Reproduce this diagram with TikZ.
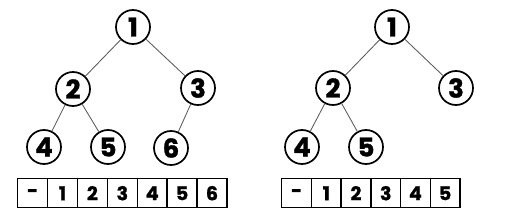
\documentclass[tikz,border=0pt]{standalone}
\usepackage{fontspec}
\setmainfont{Poppins}[BoldFont={Poppins Bold},BoldFeatures={FakeBold=1.2}]
\begin{document}
\begin{tikzpicture}[x=1pt,y=-1pt,
  tnode/.style={circle,draw=black,line width=1.7pt,minimum size=34pt,inner sep=0pt,font=\fontsize{26}{26}\selectfont\bfseries},
  edge/.style={draw=black!65,line width=0.85pt},
  cell/.style={rectangle,draw=black,line width=1.4pt,minimum width=29.8pt,minimum height=29pt,inner sep=0pt,font=\fontsize{19}{19}\selectfont\bfseries,anchor=north west}]
\useasboundingbox (0,0) rectangle (513,219);
% left tree
\node[tnode] (a1) at (133,27) {1};
\node[tnode] (a2) at (73,89) {2};
\node[tnode] (a3) at (198,88) {3};
\node[tnode] (a4) at (44,147) {4};
\node[tnode] (a5) at (108,147) {5};
\node[tnode] (a6) at (171,148) {6};
\draw[edge] (a1) -- (a2);
\draw[edge] (a1) -- (a3);
\draw[edge] (a2) -- (a4);
\draw[edge] (a2) -- (a5);
\draw[edge] (a3) -- (a6);
\foreach \t [count=\i from 0] in {-,1,2,3,4,5,6}
  \node[cell] (ac\i) at (17+29.9*\i,178) {\t};
% right tree
\node[tnode] (b1) at (392,27) {1};
\node[tnode] (b2) at (333,88) {2};
\node[tnode] (b3) at (456,88) {3};
\node[tnode] (b4) at (302,147) {4};
\node[tnode] (b5) at (366,147) {5};
\draw[edge] (b1) -- (b2);
\draw[edge] (b1) -- (b3);
\draw[edge] (b2) -- (b4);
\draw[edge] (b2) -- (b5);
\foreach \t [count=\i from 0] in {-,1,2,3,4,5}
  \node[cell] (bc\i) at (281+29.7*\i,178) {\t};
\end{tikzpicture}
\end{document}
